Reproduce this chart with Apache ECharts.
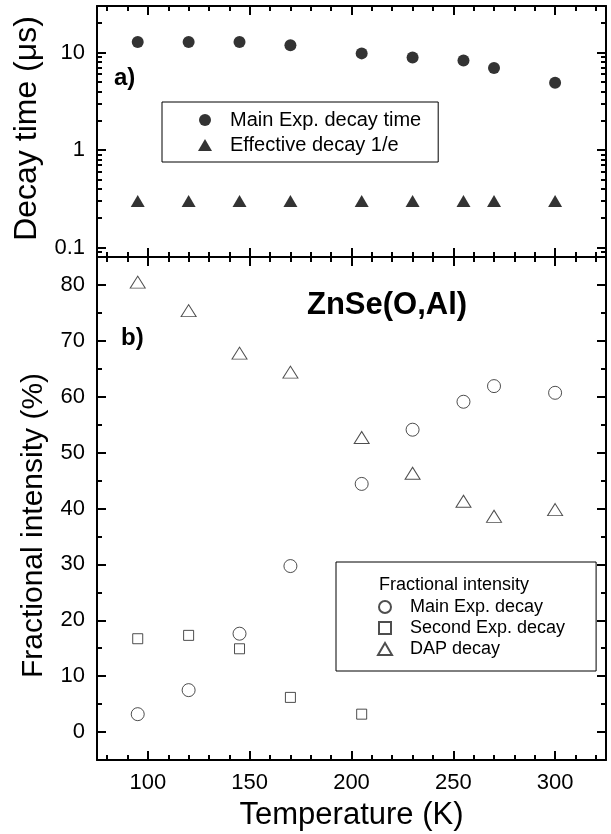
<!DOCTYPE html>
<html>
<head>
<meta charset="utf-8">
<script src="https://cdn.jsdelivr.net/npm/echarts@6/dist/echarts.min.js"></script>
<style>
  html, body { margin: 0; padding: 0; background: #fff; }
  #chart { width: 611px; height: 834px; }
</style>
</head>
<body>
<div id="chart"></div>
<script>
  /** data */
  var temps = [95, 120, 145, 170, 205, 230, 255, 270, 300];
  var mainDecayTime = [12.8, 12.8, 12.8, 11.9, 9.8, 8.9, 8.3, 6.95, 4.9];
  var effectiveDecay = [0.3, 0.3, 0.3, 0.3, 0.3, 0.3, 0.3, 0.3, 0.3];
  var mainFrac = [3.2, 7.5, 17.6, 29.7, 44.4, 54.1, 59.1, 61.9, 60.7];
  var secondTemps = [95, 120, 145, 170, 205];
  var secondFrac = [16.7, 17.3, 14.9, 6.2, 3.2];
  var dapFrac = [80.5, 75.4, 67.8, 64.4, 52.7, 46.3, 41.3, 38.6, 39.8];

  /** tick labels */
  var xMajor = [100, 150, 200, 250, 300];
  var xMinor = [80, 90, 110, 120, 130, 140, 160, 170, 180, 190, 210, 220, 230, 240, 260, 270, 280, 290, 310, 320];
  var logMajor = [0.1, 1, 10];
  var logMinor = [0.09, 0.2, 0.3, 0.4, 0.5, 0.6, 0.7, 0.8, 0.9, 2, 3, 4, 5, 6, 7, 8, 9, 20];
  var fracMajor = [0, 10, 20, 30, 40, 50, 60, 70, 80];
  var fracMinor = [5, 15, 25, 35, 45, 55, 65, 75];

  var FONT = 'Liberation Sans';
  // legend icons that keep their aspect inside a wide icon box
  var TRI_ICON = 'path://M7,0L14,12L0,12Z';
  var SQUARE_ICON = 'path://M0,0H10V10H0Z';

  function pairs(xs, ys) {
    return xs.map(function(x, i) { return [x, ys[i]]; });
  }

  // one axis only draws one set of ticks, so major / minor get their own axis
  function tickAxis(gridIndex, position, scale, ticks, len, showLine) {
    return {
      type: scale.type,
      logBase: 10,
      min: scale.min,
      max: scale.max,
      gridIndex: gridIndex,
      position: position,
      axisLine: { show: showLine, onZero: false, lineStyle: { color: '#000', width: 2 } },
      axisTick: { show: true, inside: true, length: len, customValues: ticks,
                  lineStyle: { color: '#000', width: 2 } },
      axisLabel: { show: false },
      splitLine: { show: false }
    };
  }

  var xScale = { type: 'value', min: 75, max: 325 };
  var logScale = { type: 'log', min: 0.08, max: 30 };
  var fracScale = { type: 'value', min: -5, max: 85 };

  var labelStyle = { show: true, inside: false, margin: 12, color: '#000', fontSize: 22, fontFamily: FONT };

  var xAxes = [
    tickAxis(0, 'bottom', xScale, xMajor, 9, true),
    tickAxis(0, 'bottom', xScale, xMinor, 5, false),
    tickAxis(0, 'top', xScale, xMajor, 9, true),
    tickAxis(0, 'top', xScale, xMinor, 5, false),
    tickAxis(1, 'bottom', xScale, xMajor, 9, true),
    tickAxis(1, 'bottom', xScale, xMinor, 5, false),
    tickAxis(1, 'top', xScale, xMajor, 9, true),
    tickAxis(1, 'top', xScale, xMinor, 5, false)
  ];
  xAxes[4].axisLabel = Object.assign({}, labelStyle, { customValues: xMajor });
  xAxes[4].name = 'Temperature (K)';
  xAxes[4].nameLocation = 'middle';
  xAxes[4].nameGap = 40;
  xAxes[4].nameTextStyle = { color: '#000', fontSize: 31, fontFamily: FONT };

  var yAxes = [
    tickAxis(0, 'left', logScale, logMajor, 9, true),
    tickAxis(0, 'left', logScale, logMinor, 5, false),
    tickAxis(0, 'right', logScale, logMajor, 9, true),
    tickAxis(0, 'right', logScale, logMinor, 5, false),
    tickAxis(1, 'left', fracScale, fracMajor, 9, true),
    tickAxis(1, 'left', fracScale, fracMinor, 5, false),
    tickAxis(1, 'right', fracScale, fracMajor, 9, true),
    tickAxis(1, 'right', fracScale, fracMinor, 5, false)
  ];
  yAxes[0].axisLabel = Object.assign({}, labelStyle, {
    customValues: logMajor,
    formatter: function(v) { return String(v); }
  });
  yAxes[0].name = 'Decay time (\u03bcs)';
  yAxes[0].nameLocation = 'middle';
  yAxes[0].nameGap = 48;
  yAxes[0].nameTextStyle = { color: '#000', fontSize: 32, fontFamily: FONT, padding: [0, 0, 0, 6] };
  yAxes[4].axisLabel = Object.assign({}, labelStyle, { customValues: fracMajor });
  yAxes[4].name = 'Fractional intensity (%)';
  yAxes[4].nameLocation = 'middle';
  yAxes[4].nameGap = 48;
  yAxes[4].nameTextStyle = { color: '#000', fontSize: 30, fontFamily: FONT, padding: [0, 34, 0, 0] };

  var openStyle = { color: 'rgba(255,255,255,0)', borderColor: '#222', borderWidth: 1 };

  var option = {
    backgroundColor: '#fff',
    animation: false,
    grid: [
      { left: 97, right: 5, top: 6, height: 251, outerBoundsMode: 'none' },
      { left: 97, right: 5, top: 257, bottom: 74, outerBoundsMode: 'none' }
    ],
    title: [
      { text: 'a)', left: 114, top: 66, padding: 0,
        textStyle: { fontSize: 24, fontWeight: 'bold', fontFamily: FONT, color: '#000' } },
      { text: 'b)', left: 121, top: 326, padding: 0,
        textStyle: { fontSize: 24, fontWeight: 'bold', fontFamily: FONT, color: '#000' } },
      { text: 'ZnSe(O,Al)', left: 307, top: 290, padding: 0,
        textStyle: { fontSize: 31, fontWeight: 'bold', fontFamily: FONT, color: '#000' } },
      { text: 'Fractional intensity', left: 379, top: 576, padding: 0,
        textStyle: { fontSize: 18, fontWeight: 'normal', fontFamily: FONT, color: '#000' } }
    ],
    legend: [{
      data: [{ name: 'Main Exp. decay time', icon: 'circle' }, { name: 'Effective decay 1/e', icon: TRI_ICON }],
      orient: 'vertical',
      left: 162,
      top: 102,
      padding: [8, 17, 7, 36],
      itemWidth: 40,
      itemHeight: 12,
      itemGap: 5,
      symbolKeepAspect: true,
      selectedMode: false,
      borderColor: '#000',
      borderWidth: 1,
      borderRadius: 0,
      textStyle: { color: '#000', fontSize: 20, lineHeight: 20, fontFamily: FONT }
    }, {
      data: [{ name: 'Main Exp. decay', icon: 'circle' }, { name: 'Second Exp. decay', icon: SQUARE_ICON },
             { name: 'DAP decay', icon: TRI_ICON }],
      orient: 'vertical',
      left: 336,
      top: 562,
      padding: [36, 31, 13, 41],
      itemWidth: 40,
      itemHeight: 12,
      itemGap: 3,
      symbolKeepAspect: true,
      selectedMode: false,
      borderColor: '#000',
      borderWidth: 1,
      borderRadius: 0,
      textStyle: { color: '#000', fontSize: 18, lineHeight: 18, fontFamily: FONT }
    }],
    xAxis: xAxes,
    yAxis: yAxes,
    series: [{
      name: 'Main Exp. decay time',
      type: 'scatter',
      xAxisIndex: 0,
      yAxisIndex: 0,
      symbol: 'circle',
      symbolSize: 12,
      itemStyle: { color: '#000' },
      data: pairs(temps, mainDecayTime)
    }, {
      name: 'Effective decay 1/e',
      type: 'scatter',
      xAxisIndex: 0,
      yAxisIndex: 0,
      symbol: 'triangle',
      symbolSize: [14, 12],
      itemStyle: { color: '#000' },
      data: pairs(temps, effectiveDecay)
    }, {
      name: 'Main Exp. decay',
      type: 'scatter',
      xAxisIndex: 4,
      yAxisIndex: 4,
      symbol: 'circle',
      symbolSize: 13,
      itemStyle: openStyle,
      data: pairs(temps, mainFrac)
    }, {
      name: 'Second Exp. decay',
      type: 'scatter',
      xAxisIndex: 4,
      yAxisIndex: 4,
      symbol: 'rect',
      symbolSize: 10,
      itemStyle: openStyle,
      data: pairs(secondTemps, secondFrac)
    }, {
      name: 'DAP decay',
      type: 'scatter',
      xAxisIndex: 4,
      yAxisIndex: 4,
      symbol: 'triangle',
      symbolSize: [15, 12],
      itemStyle: openStyle,
      data: pairs(temps, dapFrac)
    }]
  };

  var chartInstance = echarts.init(document.getElementById('chart'));
  chartInstance.setOption(option);
</script>
</body>
</html>
